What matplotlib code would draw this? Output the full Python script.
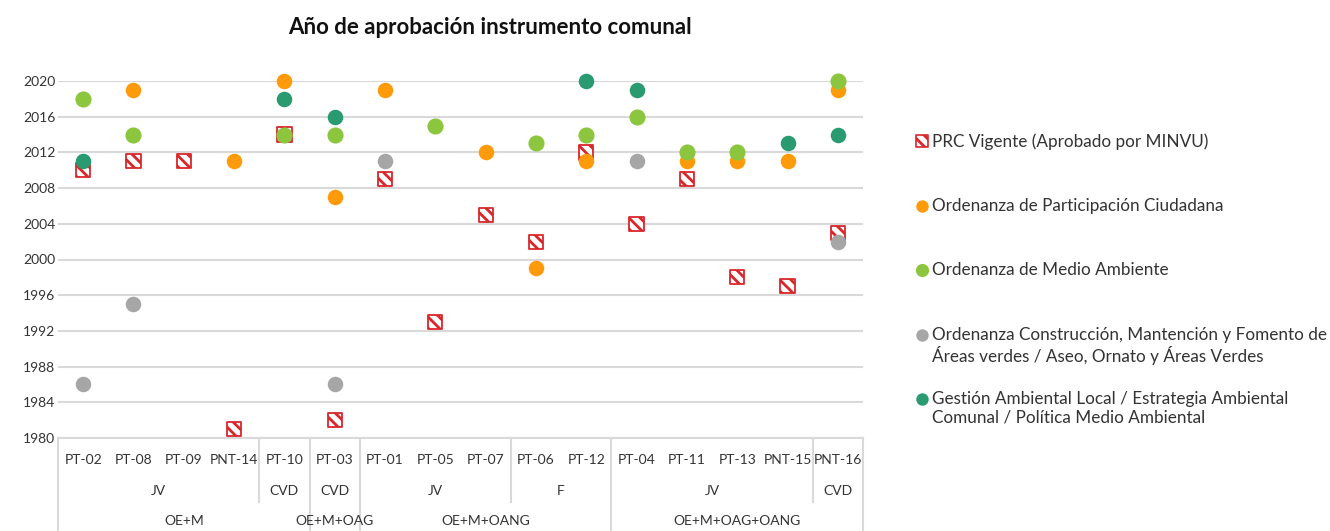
import matplotlib
matplotlib.use('Agg')
import matplotlib.pyplot as plt
import numpy as np

plt.rcParams['font.family'] = ['Lato', 'DejaVu Sans']
plt.rcParams['hatch.linewidth'] = 2.0

# categories (level 1), sub-groups (level 2), groups (level 3)
codes = ['PT-02', 'PT-08', 'PT-09', 'PNT-14', 'PT-10', 'PT-03', 'PT-01', 'PT-05',
         'PT-07', 'PT-06', 'PT-12', 'PT-04', 'PT-11', 'PT-13', 'PNT-15', 'PNT-16']
level2 = [('JV', 0, 3), ('CVD', 4, 4), ('CVD', 5, 5), ('JV', 6, 8),
          ('F', 9, 10), ('JV', 11, 14), ('CVD', 15, 15)]
level3 = [('OE+M', 0, 4), ('OE+M+OAG', 5, 5), ('OE+M+OANG', 6, 10),
          ('OE+M+OAG+OANG', 11, 15)]

nan = np.nan
prc = [2010, 2011, 2011, 1981, 2014, 1982, 2009, 1993,
       2005, 2002, 2012, 2004, 2009, 1998, 1997, 2003]
participacion = [nan, 2019, nan, 2011, 2020, 2007, 2019, nan,
                 2012, 1999, 2011, nan, 2011, 2011, 2011, 2019]
medio_ambiente = [2018, 2014, nan, nan, 2014, 2014, nan, 2015,
                  nan, 2013, 2014, 2016, 2012, 2012, nan, 2020]
areas_verdes = [1986, 1995, nan, nan, nan, 1986, 2011, nan,
                nan, nan, nan, 2011, nan, nan, nan, 2002]
gestion = [2011, nan, nan, nan, 2018, 2016, nan, nan,
           nan, nan, 2020, 2019, nan, nan, 2013, 2014]

series_labels = ['PRC Vigente (Aprobado por MINVU)',
                 'Ordenanza de Participación Ciudadana',
                 'Ordenanza de Medio Ambiente',
                 'Ordenanza Construcción, Mantención y Fomento de\nÁreas verdes / Aseo, Ornato y Áreas Verdes',
                 'Gestión Ambiental Local / Estrategia Ambiental\nComunal / Política Medio Ambiental']

RED = '#d9262b'
ORANGE = '#ff9a0a'
LGREEN = '#8cc63f'
GRAY = '#a6a6a6'
DGREEN = '#2a9a70'
GRID = '#d9d9d9'
TXT = '#333333'

fig = plt.figure(figsize=(13.3, 5.31), dpi=100)
ax = fig.add_axes([58 / 1330, 1 - 438 / 531, (863 - 58) / 1330, (438 - 81) / 531])

x = np.arange(len(codes))
ax.scatter(x, prc, marker='s', s=105, facecolors='white', edgecolors=RED,
           hatch='\\\\\\', linewidths=1.3, zorder=3, clip_on=False)
ax.scatter(x, participacion, s=125, color=ORANGE, linewidths=0, zorder=4, clip_on=False)
ax.scatter(x, medio_ambiente, s=135, color=LGREEN, linewidths=0, zorder=5, clip_on=False)
ax.scatter(x, areas_verdes, s=125, color=GRAY, linewidths=0, zorder=6, clip_on=False)
ax.scatter(x, gestion, s=125, color=DGREEN, linewidths=0, zorder=7, clip_on=False)

ax.set_xlim(-0.5, len(codes) - 0.5)
ax.set_ylim(1980, 2020)
ax.set_yticks(np.arange(1980, 2021, 4))
ax.tick_params(axis='y', length=0, labelsize=10, labelcolor=TXT, pad=2)
ax.set_xticks([])
ax.grid(axis='y', color=GRID, linewidth=1.5)
ax.set_axisbelow(True)
for s in ['top', 'right', 'left']:
    ax.spines[s].set_visible(False)
ax.spines['bottom'].set_color(GRID)
ax.spines['bottom'].set_linewidth(1.5)

# multi-level category axis
tr = ax.get_xaxis_transform()
h = 357.0
y1 = -22 / h
y2 = -53 / h
y3 = -83 / h
for i, c in enumerate(codes):
    ax.text(i, y1, c, transform=tr, ha='center', va='center', fontsize=10,
            color=TXT, clip_on=False)
for lab, a, b in level2:
    ax.text((a + b) / 2, y2, lab, transform=tr, ha='center', va='center',
            fontsize=10, color=TXT, clip_on=False)
for lab, a, b in level3:
    ax.text((a + b) / 2, y3, lab, transform=tr, ha='center', va='center',
            fontsize=10, color=TXT, clip_on=False)

full_edges = sorted({a - 0.5 for _, a, _ in level3} | {b + 0.5 for _, _, b in level3})
sub_edges = sorted({a - 0.5 for _, a, _ in level2} | {b + 0.5 for _, _, b in level2})
for e in sub_edges:
    bottom = -93 / h if e in full_edges else -64 / h
    ax.plot([e, e], [0, bottom], transform=tr, color=GRID, linewidth=1.5,
            clip_on=False, zorder=1)

fig.text(490 / 1330, 1 - 27 / 531, 'Año de aprobación instrumento comunal',
         ha='center', va='center', fontsize=16, fontweight='bold', color='#111111')

# legend drawn on an overlay in pixel coordinates
lax = fig.add_axes([0, 0, 1, 1])
lax.set_xlim(0, 1330)
lax.set_ylim(531, 0)
lax.axis('off')
leg_y = [141, 206, 270, 335, 399]
styles = [dict(marker='s', s=70, facecolors='white', edgecolors=RED, hatch='\\\\\\', linewidths=1.2),
          dict(s=80, color=ORANGE, linewidths=0),
          dict(s=90, color=LGREEN, linewidths=0),
          dict(s=80, color=GRAY, linewidths=0),
          dict(s=80, color=DGREEN, linewidths=0)]
for yy, lab, st in zip(leg_y, series_labels, styles):
    lax.scatter([922], [yy], **st)
    lax.text(932, yy - 8, lab, ha='left', va='top', fontsize=12.3, color=TXT,
             linespacing=1.2)

fig.savefig('out.png', dpi=100)
